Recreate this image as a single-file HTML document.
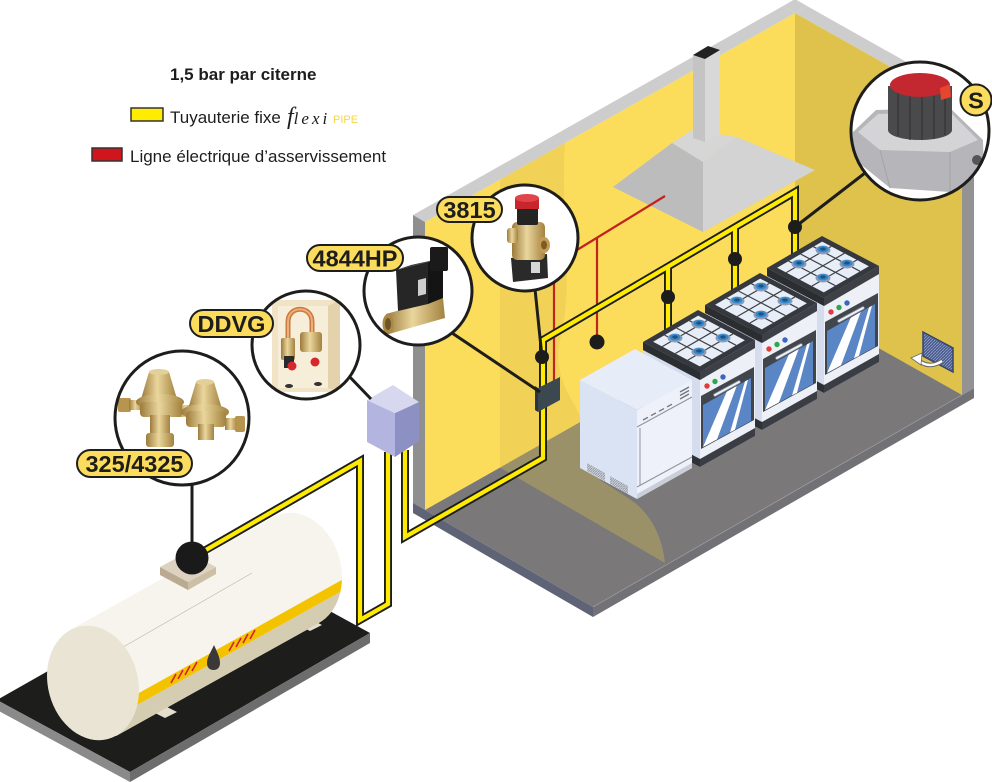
<!DOCTYPE html>
<html><head><meta charset="utf-8"><style>
html,body{margin:0;padding:0;background:#fff;}
svg{display:block;}
.sans{font-family:"Liberation Sans",Arial,sans-serif;}
.lbl{font-family:"Liberation Sans",Arial,sans-serif;font-weight:bold;font-size:23.5px;fill:#1d1d1b;}
.serif{font-family:"Liberation Serif","Times New Roman",serif;font-style:italic;}
</style></head><body>
<svg width="992" height="782" viewBox="0 0 992 782" xmlns="http://www.w3.org/2000/svg">
<defs>
  <pattern id="hatch" width="3" height="3" patternUnits="userSpaceOnUse">
    <rect width="3" height="3" fill="#4a5b8b"/><path d="M0,3 L3,0" stroke="#8e9fcc" stroke-width="0.8"/>
  </pattern>
  <pattern id="vent" width="2.5" height="2.5" patternUnits="userSpaceOnUse">
    <rect width="2.5" height="2.5" fill="#cfd4dd"/><path d="M0,2.5 L2.5,0" stroke="#8a909b" stroke-width="0.8"/>
  </pattern>
  <linearGradient id="brass" x1="0" y1="0" x2="1" y2="0">
    <stop offset="0" stop-color="#9c7a3c"/><stop offset="0.45" stop-color="#ead69c"/><stop offset="1" stop-color="#a3823f"/>
  </linearGradient>
  <g id="burner">
    <ellipse cx="0" cy="0" rx="7.5" ry="4.5" fill="#8f9bb7"/>
    <ellipse cx="0" cy="-0.8" rx="5.5" ry="3.2" fill="#2e8ad0"/>
    <ellipse cx="0" cy="-1" rx="2.8" ry="1.6" fill="#23507d"/>
  </g>
  <g id="stove">
    <polygon points="-57,-22 0,8 0,95 -57,65" fill="#d4dcee"/>
    <polygon points="-57,57 0,87 0,95 -57,65" fill="#2e3136"/>
    <polygon points="0,8 55,-24 55,64 0,95" fill="#edf0f7"/>
    <polygon points="0,87 55,56 55,64 0,95" fill="#3a3d43"/>
    <circle cx="7" cy="14" r="2.7" fill="#e23b3b"/>
    <circle cx="15" cy="9.5" r="2.7" fill="#2fa64e"/>
    <circle cx="23" cy="5" r="2.7" fill="#3b64c4"/>
    <polygon points="1,24 54,-5 54,48 1,77" fill="#41464d"/>
    <polygon points="3,33 51,6 51,49 3,75" fill="#5a86c6"/>
    <polygon points="3,75 17,67.4 36.7,14 26.7,19.7" fill="#fff"/>
    <polygon points="30,60.4 35,57.7 48,7.7 45,9.4" fill="#fff"/>
    <line x1="15" y1="23" x2="39" y2="10" stroke="#7d8593" stroke-width="3.6" stroke-linecap="round"/>
    <line x1="15" y1="23" x2="39" y2="10" stroke="#eef1f6" stroke-width="2" stroke-linecap="round"/>
    <polygon points="-57,-30 0,0 0,8 -57,-22" fill="#2a2d32"/>
    <polygon points="0,0 55,-32 55,-24 0,8" fill="#3d4147"/>
    <polygon points="-57,-30 -2,-62 55,-32 0,0" fill="#35383e"/>
    <polygon points="-0.2,-5.6 -46.9,-30.2 -1.8,-56.4 44.9,-31.8" fill="#e8eef7"/>
    <g stroke="#3d4046" stroke-width="1.2">
      <line x1="-12.2" y1="-11.9" x2="33" y2="-38.1"/>
      <line x1="-24.7" y1="-18.5" x2="20.4" y2="-44.7"/>
      <line x1="-37.8" y1="-25.4" x2="7.3" y2="-51.6"/>
      <line x1="11.4" y1="-12.3" x2="-35.4" y2="-36.9"/>
      <line x1="23.5" y1="-19.3" x2="-23.3" y2="-43.9"/>
      <line x1="36.1" y1="-26.7" x2="-10.6" y2="-51.3"/>
    </g>
    <use href="#burner" x="-1" y="-20"/>
    <use href="#burner" x="-25" y="-34"/>
    <use href="#burner" x="-1" y="-48"/>
    <use href="#burner" x="23" y="-34"/>
  </g>
  <clipPath id="tankclip">
    <ellipse cx="296" cy="570" rx="45" ry="58" transform="rotate(-15 296 570)"/>
    <polygon points="70,630 273,517 319,623 116,736"/>
  </clipPath>
  <clipPath id="c1"><circle cx="182" cy="418" r="66"/></clipPath>
  <clipPath id="c2"><circle cx="306" cy="345" r="53"/></clipPath>
  <clipPath id="c3"><circle cx="418" cy="291" r="53"/></clipPath>
  <clipPath id="c4"><circle cx="525" cy="238" r="52"/></clipPath>
  <clipPath id="c5"><circle cx="920" cy="131" r="68"/></clipPath>
</defs>

<rect width="992" height="782" fill="#fff"/>

<!-- ===== FLOOR ===== -->
<polygon points="413,503 593,607 974,388 795,280" fill="#7a7879"/>
<polygon points="413,503 593,607 593,617 413,513" fill="#5f6376"/>
<polygon points="593,607 974,388 974,398 593,617" fill="#727175"/>
<line x1="593" y1="607" x2="974" y2="388" stroke="#a3a2a6" stroke-width="0.7"/>

<!-- ===== WALLS ===== -->
<polygon points="425,222 795,13 795,301 425,510" fill="#fbdc5b"/>
<polygon points="795,13 962,107 962,395 795,301" fill="#dfc24b"/>
<polygon points="413,215 783,6 795,13 425,222" fill="#cdcdcd"/>
<polygon points="783,6 795,-1 807,6 795,13" fill="#cdcdcd"/>
<polygon points="795,13 807,6 974,100 962,107" fill="#cdcdcd"/>
<polygon points="413,215 425,222 425,510 413,503" fill="#8f8f8f"/>
<polygon points="962,107 974,100 974,388 962,395" fill="#939393"/>

<!-- wall shading / gas cloud -->
<path d="M500,179.6 L565,143 C 560,220 575,280 560,340 C 552,380 575,400 582,421 L500,467.6 Z" fill="#f1d257"/>
<path d="M500,467.6 L665,563 C 662,535 650,512 628,498 L600,480 L582,421 Z" fill="#9b9169"/>

<!-- ===== HOOD ===== -->
<polygon points="672,143 692,130 737,137 703,162" fill="#d6d6d6"/>
<polygon points="672,143 703,162 703,232 613,187" fill="#bdbcbd"/>
<polygon points="703,162 737,137 815,170 703,232" fill="#d3d3d3"/>
<polygon points="693,55 705,59 705,142 693,138" fill="#c4c4c4"/>
<polygon points="705,59 720,50 720,134 705,142" fill="#d8d8d8"/>
<polygon points="693,55 708,46 720,50 705,59" fill="#222"/>

<!-- vent grille -->
<polygon points="923,332 953,348 953,372 923,356" fill="url(#hatch)" stroke="#34446e" stroke-width="1.5"/>
<path d="M942,361 Q930,369 919,361" fill="none" stroke="#666" stroke-width="4.5"/>
<path d="M942,361 Q930,369 919,361" fill="none" stroke="#fff" stroke-width="2.5"/>
<polygon points="911,358 922,353 921,365" fill="#fff" stroke="#666" stroke-width="0.8"/>

<!-- ===== RED WIRES ===== -->
<g stroke="#c0241f" stroke-width="2.2" fill="none">
  <line x1="577" y1="250" x2="665" y2="196"/>
  <line x1="597" y1="238" x2="597" y2="342"/>
  <line x1="554" y1="283" x2="554" y2="382"/>
</g>

<!-- ===== PIPES ===== -->
<g fill="none" stroke="#1d1d1b" stroke-width="8" stroke-linejoin="miter">
  <path d="M405,450 L405,537 L543,458 L543,340 L795,192 L795,260"/>
  <path d="M668,267 L668,335"/>
  <path d="M735,228 L735,295"/>
  <path d="M192,558 L360,461 L360,620 L388,604 L388,452"/>
</g>
<g fill="none" stroke="#ffeb00" stroke-width="4.2" stroke-linejoin="miter">
  <path d="M405,450 L405,537 L543,458 L543,340 L795,192 L795,260"/>
  <path d="M668,267 L668,335"/>
  <path d="M735,228 L735,295"/>
</g>

<!-- black dots -->
<g fill="#1d1d1b">
  <circle cx="542" cy="357" r="7"/>
  <circle cx="597" cy="342" r="7.5"/>
  <circle cx="668" cy="297" r="7"/>
  <circle cx="735" cy="259" r="7"/>
  <circle cx="795" cy="227" r="7"/>
</g>

<!-- control box -->
<polygon points="535,386 538,388 538,412 535,410" fill="#2b353b"/>
<polygon points="538,388 560,377 560,400 538,412" fill="#3c4850"/>

<!-- ===== STOVES ===== -->
<use href="#stove" transform="translate(824,298)"/>
<use href="#stove" transform="translate(762,335)"/>
<use href="#stove" transform="translate(700,372)"/>

<!-- ===== DISHWASHER ===== -->
<polygon points="580,380 637,410 637,499 580,468" fill="#d9e3f4"/>
<polygon points="637,410 692,380 692,468 637,499" fill="#eef1f9"/>
<polygon points="580,380 635,349 692,380 637,410" fill="#e7edf8"/>
<polygon points="637,494 692,463 692,468 637,499" fill="#c9ced8"/>
<g stroke="#8d939c" stroke-width="1" fill="none">
  <line x1="637" y1="427" x2="692" y2="397"/>
  <line x1="637" y1="487" x2="692" y2="457"/>
  <line x1="640" y1="428" x2="640" y2="486"/>
</g>
<g stroke="#6f757e" stroke-width="1.3">
  <line x1="643" y1="420" x2="648" y2="417.3"/>
  <line x1="651" y1="415.6" x2="656" y2="412.9"/>
  <line x1="659" y1="411.3" x2="664" y2="408.6"/>
  <line x1="667" y1="406.9" x2="672" y2="404.2"/>
  <line x1="680" y1="392" x2="689" y2="387"/>
  <line x1="680" y1="395.5" x2="689" y2="390.5"/>
  <line x1="680" y1="399" x2="689" y2="394"/>
</g>
<polygon points="587,463 605,473 605,481 587,471" fill="url(#vent)"/>
<polygon points="610,476 628,486 628,494 610,484" fill="url(#vent)"/>

<!-- ===== TANK ===== -->
<polygon points="-3,700 130,772 370,633 240,562" fill="#1d1d1b"/>
<polygon points="-3,700 130,772 130,782 -3,710" fill="#8a8a8a"/>
<polygon points="130,772 370,633 370,643 130,782" fill="#6d6d6d"/>
<polygon points="153,712 165,706 177,712 165,718" fill="#e4dece"/>
<polygon points="298,625 310,619 322,625 310,631" fill="#e4dece"/>
<g clip-path="url(#tankclip)">
  <rect x="0" y="450" width="420" height="320" fill="#f6f4ec"/>
  <polygon points="70,742.4 400,558.6 400,800 70,800" fill="#d5cdb2"/>
  <polygon points="70,731.4 400,547.6 400,558.6 70,742.4" fill="#f4c300"/>
</g>
<line x1="118" y1="650" x2="252" y2="573" stroke="#bdb5a5" stroke-width="0.6"/>
<ellipse cx="93" cy="683" rx="45" ry="58" transform="rotate(-15 93 683)" fill="#e9e4d3"/>
<g stroke="#d4202a" stroke-width="1.6">
  <line x1="171" y1="683" x2="176" y2="674"/>
  <line x1="178" y1="679" x2="183" y2="670"/>
  <line x1="185" y1="675" x2="190" y2="666"/>
  <line x1="192" y1="671" x2="197" y2="662"/>
  <line x1="229" y1="651" x2="234" y2="642"/>
  <line x1="236" y1="647" x2="241" y2="638"/>
  <line x1="243" y1="643" x2="248" y2="634"/>
  <line x1="250" y1="639" x2="255" y2="630"/>
</g>
<path d="M214,645 C211,652 207,657 207,663 C207,668 210,670 213.5,670 C217,670 220,668 220,663 C220,657 217,652 214,645 Z" fill="#3b3838"/>
<polygon points="160,567 188,582 188,590 160,575" fill="#b9aa91"/>
<polygon points="188,582 216,567 216,574 188,590" fill="#cdbfa5"/>
<polygon points="160,567 188,552 216,567 188,582" fill="#dcd2bf"/>
<path d="M192,558 L360,461 L360,620 L388,604 L388,452" fill="none" stroke="#ffeb00" stroke-width="4.2" stroke-linejoin="miter"/>
<circle cx="192" cy="558" r="16.5" fill="#1a1a1a"/>

<!-- purple junction box -->
<polygon points="367,400 395,413 395,457 367,442" fill="#b3b5e0"/>
<polygon points="395,413 419,402 419,441 395,457" fill="#8d90c2"/>
<polygon points="367,400 393,385 419,402 395,413" fill="#d7d8f0"/>

<!-- ===== CONNECTOR LINES ===== -->
<g stroke="#1d1d1b" stroke-width="3" fill="none">
  <line x1="192" y1="484" x2="192" y2="545"/>
  <line x1="346" y1="373" x2="371" y2="399"/>
  <line x1="452" y1="333" x2="540" y2="392"/>
  <line x1="535" y1="289" x2="542" y2="357"/>
  <line x1="865" y1="173" x2="795" y2="227"/>
</g>

<!-- ===== CALLOUT 325/4325 ===== -->
<circle cx="182" cy="418" r="67" fill="#fff"/>
<g clip-path="url(#c1)">
  <rect x="118" y="398" width="13" height="14" rx="2" fill="#b8954f"/>
  <rect x="129" y="400" width="14" height="10" fill="url(#brass)"/>
  <rect x="178" y="405" width="16" height="12" fill="url(#brass)"/>
  <polygon points="149,372 169,372 177,399 141,399" fill="url(#brass)"/>
  <ellipse cx="159" cy="372" rx="10" ry="3" fill="#e3cf98"/>
  <ellipse cx="160" cy="402" rx="24" ry="8" fill="url(#brass)"/>
  <rect x="140" y="402" width="42" height="15" rx="4" fill="url(#brass)"/>
  <rect x="150" y="415" width="20" height="22" fill="url(#brass)"/>
  <rect x="146" y="433" width="28" height="14" rx="3" fill="url(#brass)"/>
  <polygon points="196,382 214,382 222,409 188,409" fill="url(#brass)"/>
  <ellipse cx="205" cy="382" rx="9" ry="3" fill="#e3cf98"/>
  <ellipse cx="205" cy="412" rx="24" ry="8" fill="url(#brass)"/>
  <rect x="186" y="411" width="40" height="16" rx="4" fill="url(#brass)"/>
  <rect x="198" y="424" width="16" height="16" fill="url(#brass)"/>
  <rect x="225" y="418" width="12" height="12" fill="url(#brass)"/>
  <rect x="235" y="416" width="10" height="16" rx="2" fill="#b8954f"/>
</g>
<circle cx="182" cy="418" r="67" fill="none" stroke="#1d1d1b" stroke-width="3"/>

<!-- ===== CALLOUT DDVG ===== -->
<circle cx="306" cy="345" r="54" fill="#fff"/>
<g clip-path="url(#c2)">
  <rect x="272" y="300" width="68" height="92" fill="#f1e4c6"/>
  <rect x="278" y="306" width="50" height="82" fill="#f7eed9"/>
  <polygon points="328,306 340,300 340,392 328,388" fill="#e3d2ab"/>
  <path d="M288,342 L288,322 C288,305 312,305 312,322 L312,335" fill="none" stroke="#c97a3e" stroke-width="5"/>
  <path d="M288,342 L288,322 C288,305 312,305 312,322 L312,335" fill="none" stroke="#f0ad78" stroke-width="2"/>
  <rect x="281" y="338" width="14" height="22" rx="2" fill="url(#brass)"/>
  <rect x="300" y="332" width="22" height="20" rx="3" fill="url(#brass)"/>
  <rect x="284" y="356" width="10" height="12" fill="#2a2a2a"/>
  <circle cx="292" cy="366" r="4.5" fill="#d7262c"/>
  <circle cx="315" cy="362" r="4.5" fill="#d7262c"/>
  <ellipse cx="289" cy="386" rx="4" ry="2" fill="#333"/>
  <ellipse cx="318" cy="384" rx="4" ry="2" fill="#333"/>
</g>
<circle cx="306" cy="345" r="54" fill="none" stroke="#1d1d1b" stroke-width="3"/>

<!-- ===== CALLOUT 4844HP ===== -->
<circle cx="418" cy="291" r="54" fill="#fff"/>
<g clip-path="url(#c3)">
  <polygon points="386,314 443,298 445,318 389,334" fill="url(#brass)"/>
  <ellipse cx="388" cy="324" rx="5.5" ry="10" fill="#a98944"/>
  <ellipse cx="388" cy="324" rx="3" ry="6" fill="#6e5628"/>
  <polygon points="396,270 428,262 428,304 398,311" fill="#262626"/>
  <polygon points="428,262 443,258 443,298 428,304" fill="#141414"/>
  <polygon points="396,270 411,265 443,258 428,262" fill="#3a3a3a"/>
  <rect x="430" y="247" width="18" height="24" rx="2" fill="#1a1a1a"/>
  <polygon points="418,280 426,278 426,294 418,296" fill="#cfcfcf"/>
</g>
<circle cx="418" cy="291" r="54" fill="none" stroke="#1d1d1b" stroke-width="3"/>

<!-- ===== CALLOUT 3815 ===== -->
<circle cx="525" cy="238" r="53" fill="#fff"/>
<g clip-path="url(#c4)">
  <polygon points="511,258 547,254 548,278 513,282" fill="#2a2a2a"/>
  <rect x="531" y="262" width="9" height="11" fill="#d6d6d6"/>
  <rect x="512" y="222" width="33" height="38" rx="5" fill="url(#brass)"/>
  <rect x="507" y="228" width="11" height="15" rx="3" fill="url(#brass)"/>
  <ellipse cx="544" cy="245" rx="6" ry="8" fill="#c49a55"/>
  <ellipse cx="544" cy="245" rx="3" ry="4.5" fill="#7a5c26"/>
  <rect x="517" y="207" width="21" height="18" rx="2" fill="#242424"/>
  <rect x="515" y="198" width="24" height="11" fill="#c8262c"/>
  <ellipse cx="527" cy="198" rx="12" ry="4" fill="#e0454a"/>
</g>
<circle cx="525" cy="238" r="53" fill="none" stroke="#1d1d1b" stroke-width="3"/>

<!-- ===== CALLOUT S ===== -->
<circle cx="920" cy="131" r="69" fill="#fff"/>
<g clip-path="url(#c5)">
  <path d="M853,132 L876,110 L950,108 L983,140 L984,180 L950,192 L890,188 L853,158 Z" fill="#b6b6ba"/>
  <polygon points="858,132 878,114 950,112 978,140 950,152 880,150" fill="#d4d4d7"/>
  <line x1="880" y1="150" x2="890" y2="188" stroke="#a3a3a7" stroke-width="1"/>
  <line x1="950" y1="152" x2="950" y2="192" stroke="#a3a3a7" stroke-width="1"/>
  <circle cx="977" cy="160" r="5" fill="#555"/>
  <path d="M888,86 L952,86 L952,130 A32,10 0 0 1 888,130 Z" fill="#4a4a4c"/>
  <g stroke="#333" stroke-width="1.2">
    <line x1="898" y1="92" x2="898" y2="136"/>
    <line x1="910" y1="95" x2="910" y2="140"/>
    <line x1="922" y1="95" x2="922" y2="140"/>
    <line x1="934" y1="95" x2="934" y2="139"/>
    <line x1="945" y1="92" x2="945" y2="135"/>
  </g>
  <ellipse cx="920" cy="85" rx="30" ry="12" fill="#c3272f"/>
  <polygon points="940,88 950,84 951,97 941,100" fill="#e8452f"/>
</g>
<circle cx="920" cy="131" r="69" fill="none" stroke="#1d1d1b" stroke-width="3"/>

<!-- ===== LABELS ===== -->
<g fill="#fbdc5d" stroke="#1d1d1b" stroke-width="2">
  <rect x="77" y="450" width="115" height="27" rx="13.5"/>
  <rect x="190" y="310" width="83" height="27" rx="13.5"/>
  <rect x="307" y="245" width="96" height="26" rx="13"/>
  <rect x="437" y="197" width="65" height="25" rx="12.5"/>
  <circle cx="976" cy="100" r="15.5"/>
</g>
<text class="lbl" x="134.5" y="472" text-anchor="middle">325/4325</text>
<text class="lbl" x="231.5" y="332" text-anchor="middle">DDVG</text>
<text class="lbl" x="355" y="266.5" text-anchor="middle">4844HP</text>
<text class="lbl" x="469.5" y="218" text-anchor="middle">3815</text>
<text class="lbl" x="976" y="108.5" text-anchor="middle">S</text>

<!-- ===== LEGEND ===== -->
<text class="sans" x="170" y="80" font-size="17" font-weight="bold" fill="#1d1d1b">1,5 bar par citerne</text>
<rect x="131" y="108" width="32" height="13" fill="#ffec00" stroke="#333" stroke-width="1.5"/>
<text class="sans" x="170" y="123" font-size="17" fill="#1d1d1b">Tuyauterie fixe</text>
<text class="serif" x="287" y="124" fill="#1d1d1b"><tspan font-size="24">f</tspan><tspan font-size="17" letter-spacing="3">lexi</tspan></text>
<text class="sans" x="333" y="123" font-size="11" fill="#f4d64c">PIPE</text>
<rect x="92" y="148" width="30" height="13" fill="#d0161c" stroke="#333" stroke-width="1.5"/>
<text class="sans" x="130" y="162" font-size="17" fill="#1d1d1b">Ligne électrique d’asservissement</text>
</svg>
</body></html>
